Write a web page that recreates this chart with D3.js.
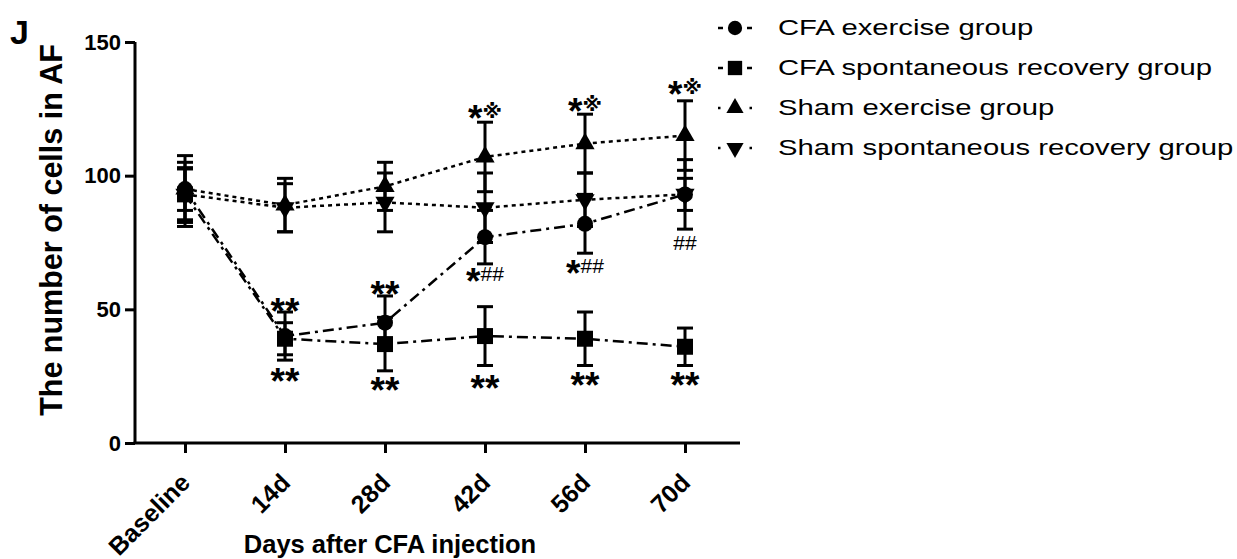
<!DOCTYPE html>
<html>
<head>
<meta charset="utf-8">
<script src="https://cdn.jsdelivr.net/npm/d3@7"></script>
<style>
  body { margin: 0; background: #fff; }
  svg { display: block; font-family: "Liberation Sans", Arial, sans-serif; }
</style>
</head>
<body>
<div id="chart"></div>
<script>
// categories and values
var categories = ["Baseline", "14d", "28d", "42d", "56d", "70d"];
var yTicks = [0, 50, 100, 150];

var cfaExMean  = [95, 40, 45, 77, 82, 93];
var cfaExSem   = [12.5, 9, 10, 10, 11, 6];
var cfaSpMean  = [93, 39, 37, 40, 39, 36];
var cfaSpSem   = [12, 6, 10, 11, 10, 7];
var shamExMean = [95, 89, 96, 107, 112, 115];
var shamExSem  = [8, 10, 9, 13, 11, 13];
var shamSpMean = [93, 88, 90, 88, 91, 93];
var shamSpSem  = [9.5, 9, 11, 13, 10, 13];

var seriesNames = ["CFA exercise group", "CFA spontaneous recovery group",
                   "Sham exercise group", "Sham spontaneous recovery group"];

// significance marks: category, value where the mark sits, text
var annoCats = ["14d", "14d", "28d", "28d", "42d", "42d", "42d", "56d", "56d", "56d", "70d", "70d", "70d"];
var annoVals = [52, 26, 58.5, 22.5, 124.5, 63.5, 23.5, 127, 66.5, 24.5, 133.5, 75, 24.5];
var annoText = ["**", "**", "**", "**", "*※", "*##", "**", "*※", "*##", "**", "*※", "##", "**"];

function init() {
    var w = 1237, h = 559;

    var svg = d3.select("#chart").append("svg")
        .attr("width", w)
        .attr("height", h);

    var x = d3.scalePoint()
        .domain(categories)
        .range([135, 735])
        .padding(0.5);

    var y = d3.scaleLinear()
        .domain([0, 150])
        .range([443, 42]);

    var series = [
        {name: seriesNames[0], mean: cfaExMean,  sem: cfaExSem,  symbol: d3.symbolCircle,   size: 200, rot: 0,   dash: "11,5,3,5"},
        {name: seriesNames[1], mean: cfaSpMean,  sem: cfaSpSem,  symbol: d3.symbolSquare,   size: 256, rot: 0,   dash: "11,5,3,5"},
        {name: seriesNames[2], mean: shamExMean, sem: shamExSem, symbol: d3.symbolTriangle, size: 160, rot: 0,   dash: "4,4"},
        {name: seriesNames[3], mean: shamSpMean, sem: shamSpSem, symbol: d3.symbolTriangle, size: 160, rot: 180, dash: "4,4"}
    ];

    // axes
    var yAxis = d3.axisLeft(y).tickValues(yTicks).tickSize(10).tickPadding(4);
    var gy = svg.append("g")
        .attr("transform", "translate(135,0)")
        .call(yAxis);
    gy.select(".domain").attr("d", "M0," + y(150) + "V" + y(0));
    gy.selectAll("line, path").attr("stroke", "#000").attr("stroke-width", 3);
    gy.selectAll("text")
        .style("font-size", "22px")
        .style("font-weight", "bold")
        .attr("fill", "#000");

    var xAxis = d3.axisBottom(x).tickSize(10).tickSizeOuter(0);
    var gx = svg.append("g")
        .attr("transform", "translate(0," + y(0) + ")")
        .call(xAxis);
    gx.select(".domain").attr("d", "M133.5,0H740");
    gx.selectAll("line, path").attr("stroke", "#000").attr("stroke-width", 3);
    gx.selectAll("text")
        .attr("x", 0)
        .attr("y", 0)
        .attr("dy", "0.35em")
        .attr("text-anchor", "end")
        .attr("transform", "translate(0,35) rotate(-45)")
        .style("font-size", "25px")
        .style("font-weight", "bold")
        .attr("fill", "#000");

    // axis titles
    svg.append("text")
        .attr("transform", "translate(62,230) rotate(-90)")
        .attr("text-anchor", "middle")
        .style("font-size", "30.5px")
        .style("font-weight", "bold")
        .text("The number of cells in AF");

    svg.append("text")
        .attr("x", 390)
        .attr("y", 553)
        .attr("text-anchor", "middle")
        .style("font-size", "25.5px")
        .style("font-weight", "bold")
        .text("Days after CFA injection");

    svg.append("text")
        .attr("x", 10)
        .attr("y", 44)
        .style("font-size", "34px")
        .style("font-weight", "bold")
        .text("J");

    // lines
    series.forEach(function(s) {
        var line = d3.line()
            .x(function(d, i) { return x(categories[i]); })
            .y(function(d) { return y(d); });
        svg.append("path")
            .datum(s.mean)
            .attr("d", line)
            .attr("fill", "none")
            .attr("stroke", "#000")
            .attr("stroke-width", 2.5)
            .attr("stroke-dasharray", s.dash);
    });

    // error bars
    series.forEach(function(s) {
        var g = svg.append("g").attr("stroke", "#000").attr("stroke-width", 3);
        s.mean.forEach(function(m, i) {
            var cx = x(categories[i]);
            g.append("line")
                .attr("x1", cx).attr("x2", cx)
                .attr("y1", y(m + s.sem[i])).attr("y2", y(m - s.sem[i]));
            [m + s.sem[i], m - s.sem[i]].forEach(function(v) {
                g.append("line")
                    .attr("x1", cx - 8).attr("x2", cx + 8)
                    .attr("y1", y(v)).attr("y2", y(v));
            });
        });
    });

    // markers
    series.forEach(function(s) {
        var sym = d3.symbol().type(s.symbol).size(s.size);
        svg.append("g").selectAll("path")
            .data(s.mean)
            .join("path")
            .attr("d", sym)
            .attr("transform", function(d, i) {
                return "translate(" + x(categories[i]) + "," + y(d) + ") rotate(" + s.rot + ")";
            })
            .attr("fill", "#000");
    });

    // significance marks, each glyph sized and shifted so its centre sits on the value
    var glyph = {
        "*": {size: 37, off: 20.5, font: "'Liberation Sans', Arial, sans-serif", weight: "bold"},
        "#": {size: 21, off: 7.3, font: "'Liberation Sans', Arial, sans-serif", weight: "normal"},
        "※": {size: 20, off: 7.5, font: "'DejaVu Sans', 'Noto Sans CJK SC', sans-serif", weight: "bold"}
    };
    annoText.forEach(function(t, k) {
        var txt = svg.append("text")
            .attr("x", x(annoCats[k]))
            .attr("y", y(annoVals[k]))
            .attr("text-anchor", "middle")
            .attr("fill", "#000");
        var prev = 0;
        Array.from(t).forEach(function(ch) {
            var gl = glyph[ch];
            txt.append("tspan")
                .attr("dy", gl.off - prev)
                .style("font-size", gl.size + "px")
                .style("font-family", gl.font)
                .style("font-weight", gl.weight)
                .text(ch);
            prev = gl.off;
        });
    });

    // legend
    var legend = svg.append("g");
    series.forEach(function(s, i) {
        var row = legend.append("g").attr("transform", "translate(0," + (28 + i * 40) + ")");
        var seg = i < 2 ? 5 : 2.5;
        [[718, 718 + seg], [752 - seg, 752]].forEach(function(p) {
            row.append("line")
                .attr("x1", p[0]).attr("x2", p[1])
                .attr("y1", 0).attr("y2", 0)
                .attr("stroke", "#000")
                .attr("stroke-width", 2.5);
        });
        row.append("path")
            .attr("d", d3.symbol().type(s.symbol).size(s.size * 0.8)())
            .attr("transform", "translate(735,0) rotate(" + s.rot + ")")
            .attr("fill", "#000");
        row.append("text")
            .attr("transform", "translate(778,7) scale(1.33,1)")
            .style("font-size", "22px")
            .text(s.name);
    });
}

init();
</script>
</body>
</html>
